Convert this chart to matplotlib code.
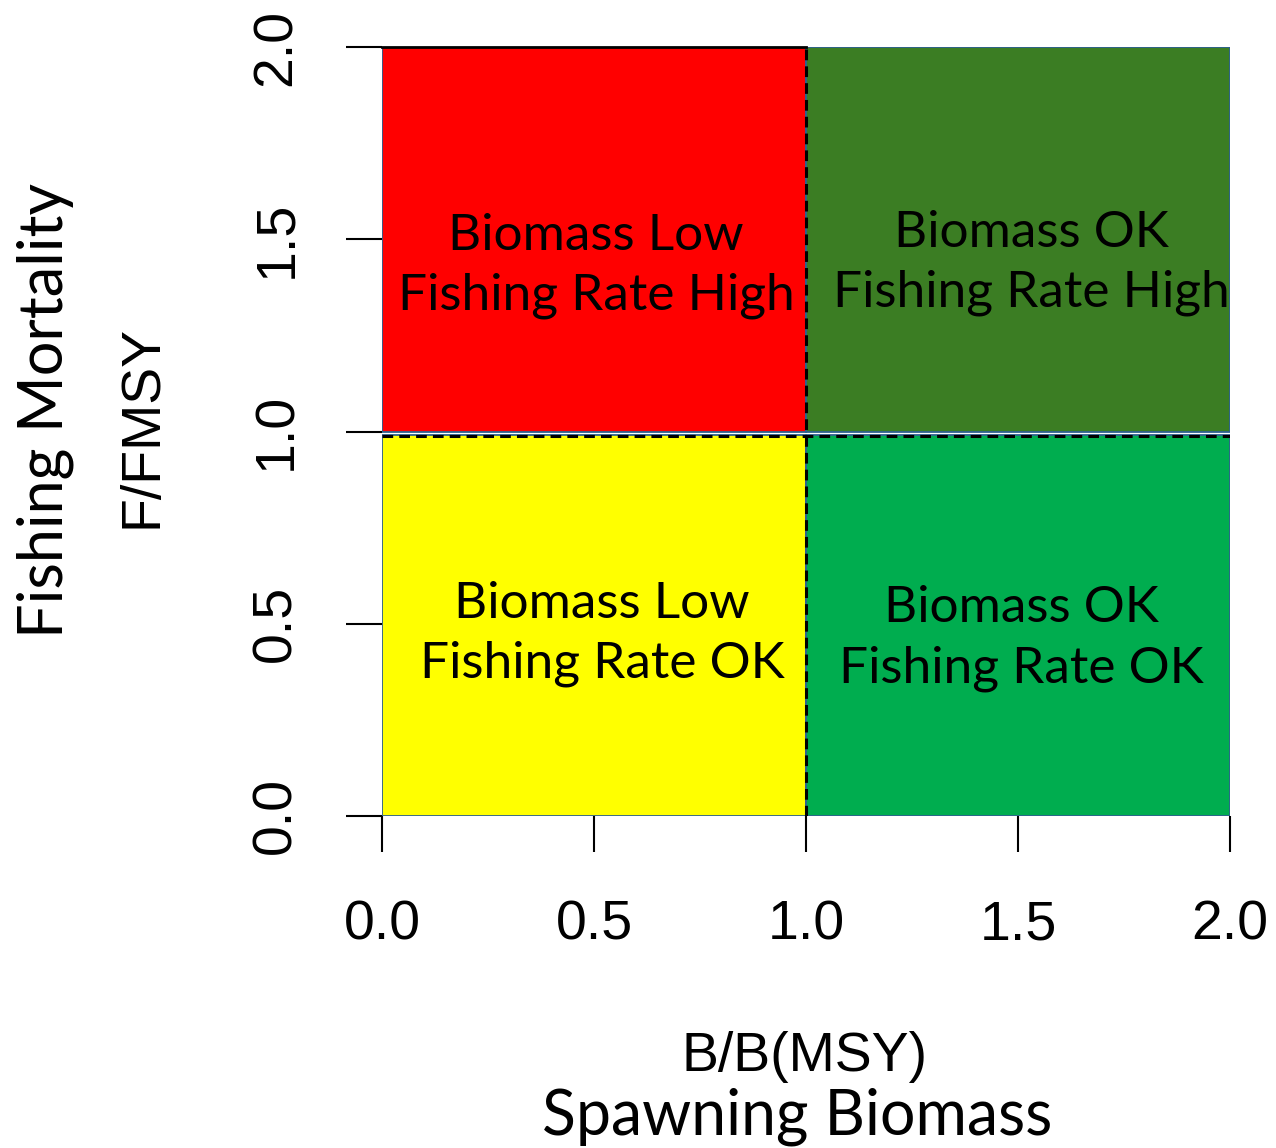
import matplotlib
matplotlib.use("Agg")
import matplotlib.pyplot as plt
from matplotlib.patches import Rectangle

# quadrants: (x0, y0, width, height), fill colour, label and label centre
quad_x = [0.0, 1.0, 0.0, 1.0]
quad_y = [1.0, 1.0, 0.0, 0.0]
quad_w = [1.0, 1.0, 1.0, 1.0]
quad_h = [1.0, 1.0, 0.99, 0.99]
quad_colors = ["#FF0000", "#3B7D23", "#FFFF00", "#00AD4F"]
quad_labels = [
    "Biomass Low\nFishing Rate High",
    "Biomass OK\nFishing Rate High",
    "Biomass Low\nFishing Rate OK",
    "Biomass OK\nFishing Rate OK",
]
label_x = [0.505, 1.531, 0.519, 1.507]
label_y = [1.43, 1.438, 0.473, 0.461]

ticks = [0.0, 0.5, 1.0, 1.5, 2.0]
tick_labels = ["0.0", "0.5", "1.0", "1.5", "2.0"]
ref_line = 1.0

W, H = 1276, 1148
fig = plt.figure(figsize=(W / 100, H / 100), dpi=100)
ax = fig.add_axes([382 / W, 1 - 816 / H, 848 / W, 769 / H])

edge = "#2E6190"
for x0, y0, w, h, c in zip(quad_x, quad_y, quad_w, quad_h, quad_colors):
    ax.add_patch(Rectangle((x0, y0), w, h, facecolor=c, edgecolor=edge, lw=1.3, zorder=1))

for x, y, s in zip(label_x, label_y, quad_labels):
    ax.text(x, y, s, ha="center", va="center", fontsize=37, family="Lato",
            linespacing=1.38, zorder=3)

# reference lines
ax.plot([0, ref_line], [2, 2], color="black", lw=2.0, zorder=2, clip_on=False)
ax.plot([ref_line, ref_line], [0, 2], color="black", lw=2.2, ls=(0, (3.5, 2)), zorder=2)
ax.plot([0, 2], [ref_line - 0.012, ref_line - 0.012], color="black", lw=2.2,
        ls=(0, (3.5, 2)), zorder=2)

ax.set_xlim(0, 2)
ax.set_ylim(0, 2)
for sp in ax.spines.values():
    sp.set_visible(False)

ax.set_xticks(ticks)
ax.set_xticklabels(tick_labels)
ax.set_yticks(ticks)
ax.set_yticklabels(tick_labels, rotation=90, va="center")
ax.tick_params(axis="both", length=26, width=1.5, labelsize=40, pad=34)
ax.tick_params(axis="y", pad=31)
for lab in ax.get_xticklabels() + ax.get_yticklabels():
    lab.set_family("Liberation Sans")

fig.text(45 / W, 1 - 410 / H, "Fishing Mortality", rotation=90, ha="center",
         va="center", fontsize=44, family="Lato")
fig.text(143 / W, 1 - 426 / H, "F/FMSY", rotation=90, ha="center",
         va="center", fontsize=40, family="Liberation Sans")
fig.text(805 / W, 1 - 1057 / H, "B/B(MSY)", ha="center", va="center",
         fontsize=40, family="Liberation Sans")
fig.text(797 / W, 1 - 1117 / H, "Spawning Biomass", ha="center", va="center",
         fontsize=45, family="Lato")

fig.savefig("out.png", dpi=100)
